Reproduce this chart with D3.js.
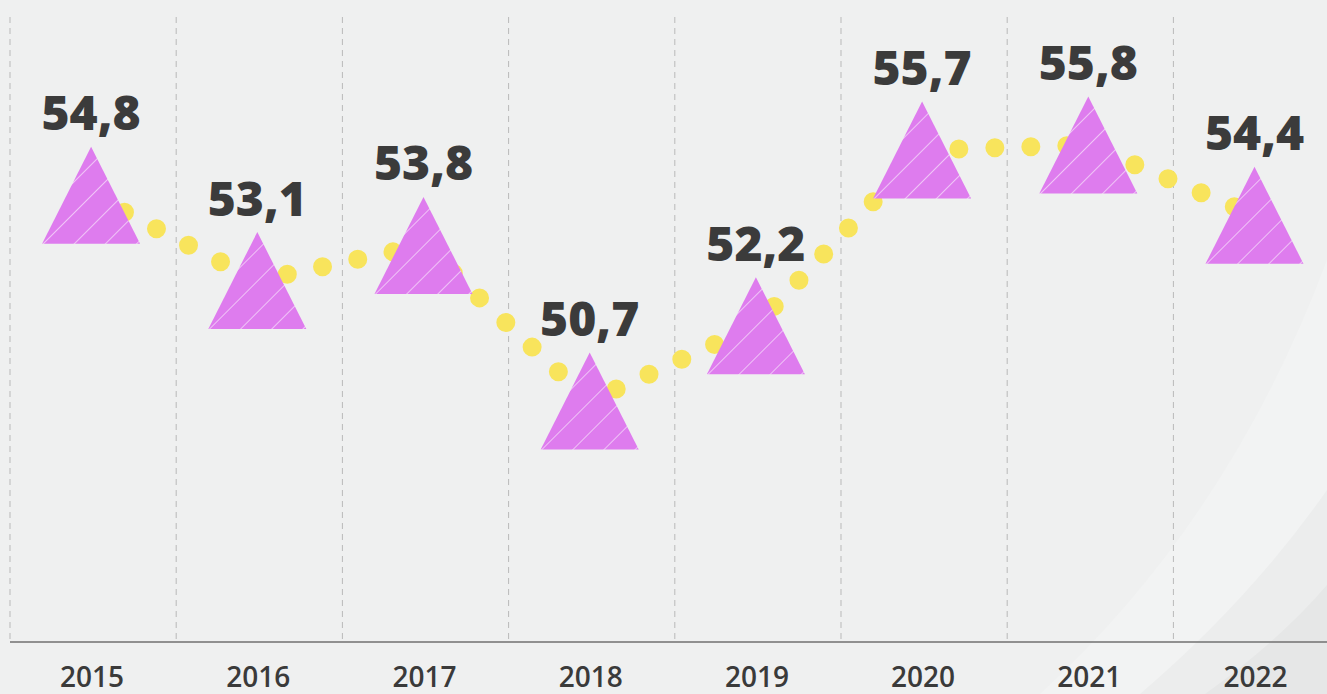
<!DOCTYPE html>
<html>
<head>
<meta charset="UTF-8">
<title>2015-2022</title>
<script src="https://cdn.jsdelivr.net/npm/d3@7"></script>
<style>
  html, body { margin: 0; padding: 0; background: #eff0f0; overflow: hidden; }
  svg { display: block; }
  .grid line { stroke: #b9b9b9; stroke-width: 1; stroke-dasharray: 6 5; }
  .axis line { stroke: #707070; stroke-width: 1.5; }
  .year { font-family: "Open Sans", sans-serif; font-weight: 600; font-size: 28px; fill: #3a3a3a; }
  .val { font-family: "Open Sans", sans-serif; font-weight: 800; font-size: 48px; fill: #3b3b3b; }
</style>
</head>
<body>
<div id="graphe"></div>
<script>
  // données
  var annees = ["2015", "2016", "2017", "2018", "2019", "2020", "2021", "2022"];
  var valeurs = [54.8, 53.1, 53.8, 50.7, 52.2, 55.7, 55.8, 54.4];

  var width = 1327, height = 694;
  var haut = 17, axeY = 642;

  var fr = d3.formatLocale({decimal: ",", thousands: " ", grouping: [3], currency: ["", "€"]});
  var format = fr.format(".1f");

  var svg = d3.select("#graphe").append("svg")
    .attr("width", width)
    .attr("height", height);

  // motif rayé des triangles
  var defs = svg.append("defs");
  var pat = defs.append("pattern")
    .attr("id", "rayures")
    .attr("patternUnits", "userSpaceOnUse")
    .attr("width", 22)
    .attr("height", 22)
    .attr("patternTransform", "rotate(45)");
  pat.append("rect").attr("width", 22).attr("height", 22).attr("fill", "#de7cee");
  pat.append("line")
    .attr("x1", 0).attr("y1", 0).attr("x2", 0).attr("y2", 22)
    .attr("stroke", "rgba(255,255,255,0.55)")
    .attr("stroke-width", 2);

  // fond avec deux formes courbes discrètes en bas à droite
  svg.append("rect").attr("width", width).attr("height", height).attr("fill", "#eff0f0");
  svg.append("path")
    .attr("d", "M1040,694 Q1230,520 1327,260 L1327,694 Z")
    .attr("fill", "#f2f3f3");
  svg.append("path")
    .attr("d", "M1140,694 Q1250,600 1327,490 L1327,694 Z")
    .attr("fill", "#eceded");
  svg.append("path")
    .attr("d", "M1205,694 Q1280,640 1327,585 L1327,694 Z")
    .attr("fill", "#e6e7e7");

  var x = d3.scaleBand()
    .domain(annees)
    .range([9, 9 + 8 * 166.2])
    .padding(0);

  var y = d3.scaleLinear()
    .domain([45.9, 58.35])
    .range([axeY, haut]);

  // lignes verticales
  svg.append("g").attr("class", "grid")
    .selectAll("line")
    .data(annees)
    .enter().append("line")
    .attr("x1", function(d) { return x(d) + 1; })
    .attr("x2", function(d) { return x(d) + 1; })
    .attr("y1", haut)
    .attr("y2", axeY);

  // axe du bas
  var axe = svg.append("g").attr("class", "axis")
    .attr("transform", "translate(0," + axeY + ")")
    .call(d3.axisBottom(x).tickSize(0).tickPadding(0));
  axe.select(".domain").remove();
  axe.selectAll(".tick text").remove();
  axe.append("line").attr("x1", 10).attr("x2", width).attr("y1", 0).attr("y2", 0);
  axe.selectAll(".tick")
    .append("text")
    .attr("class", "year")
    .attr("text-anchor", "middle")
    .attr("y", 45)
    .text(function(d) { return d; });

  var pts = annees.map(function(a, i) { return {an: a, v: valeurs[i]}; });
  var cx = function(d) { return x(d.an) + x.bandwidth() / 2 - 1; };

  // ligne en pointillés jaunes
  var ligne = d3.line()
    .x(cx)
    .y(function(d) { return y(d.v); });

  svg.append("path")
    .datum(pts)
    .attr("d", ligne)
    .attr("fill", "none")
    .attr("stroke", "#f8e45c")
    .attr("stroke-width", 19)
    .attr("stroke-linecap", "round")
    .attr("stroke-dasharray", "0 36")
    .attr("stroke-dashoffset", -1.5);

  // triangles
  var tw = 98, th = 97;
  svg.append("g").selectAll("path")
    .data(pts)
    .enter().append("path")
    .attr("transform", function(d) { return "translate(" + cx(d) + "," + y(d.v) + ")"; })
    .attr("d", "M0," + (-th / 2) + "L" + (tw / 2) + "," + (th / 2) + "L" + (-tw / 2) + "," + (th / 2) + "Z")
    .attr("fill", "url(#rayures)");

  // étiquettes
  svg.append("g").selectAll("text")
    .data(pts)
    .enter().append("text")
    .attr("class", "val")
    .attr("text-anchor", "middle")
    .attr("x", cx)
    .attr("y", function(d) { return y(d.v) - 65; })
    .text(function(d) { return format(d.v); });
</script>
</body>
</html>
